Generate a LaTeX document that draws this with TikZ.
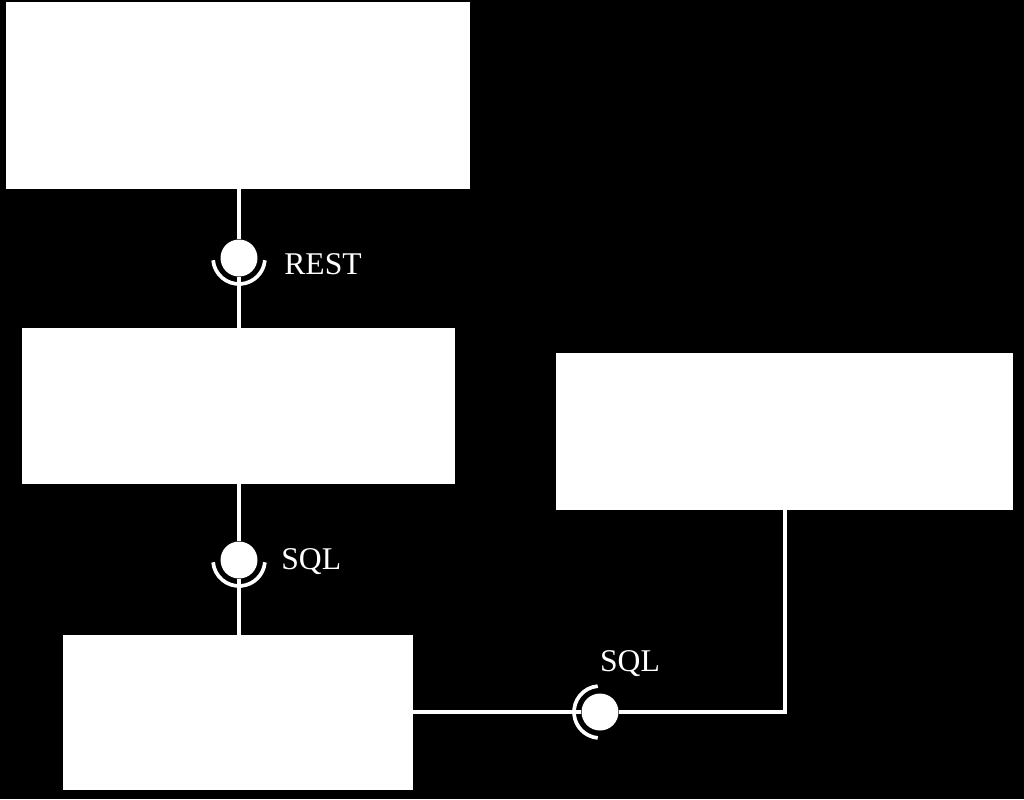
\documentclass[tikz,border=0pt]{standalone}
\usepackage{fontspec}
\setmainfont{Liberation Serif}
\usepackage{tikz}
\usetikzlibrary{positioning, backgrounds}
\tikzset{
  box/.style={draw=none, fill=white, inner sep=0pt, minimum width=#1},
  box/.default=9cm,
  wire/.style={draw=white, line width=2.1pt},
  ball/.style={circle, fill=white, draw=none, inner sep=0pt, minimum size=0.74cm},
  sock/.style={draw=white, line width=2.1pt},
  lbl/.style={text=white, font=\fontsize{18}{21}\selectfont, inner sep=0pt},
}

\begin{document}
\begin{tikzpicture}[x=0.02cm, y=-0.02cm]
    \useasboundingbox[fill=black] (0,0) rectangle (1024,799);
    % components
    \node[box=9.28cm, minimum height=3.74cm] (client) at (238, 95.5)  {};
    \node[box=8.66cm, minimum height=3.12cm] (server) at (238.5, 406) {};
    \node[box=9.14cm, minimum height=3.14cm] (other)  at (784.5, 431.5) {};
    \node[box=7.0cm,  minimum height=3.1cm]  (dbase)  at (238, 712.5) {};
    % interfaces
    \node[ball] (irest) at (239, 258) {};
    \node[ball] (isql)  at (239, 560) {};
    \node[ball] (isqlb) at (600, 712) {};
    \node[lbl, anchor=west] (lrest) at (284, 264) {REST};
    \node[lbl, anchor=west] (lsql)  at (281, 562) {SQL};
    \node[lbl] (lsqlb) at (630, 664) {SQL};
    \coordinate (bend) at (785, 712);

    \draw[wire] (client.south -| irest) -- (irest);
    \draw[wire] (irest) -- (server.north -| irest);
    \draw[wire] (server.south -| isql) -- (isql);
    \draw[wire] (isql) -- (dbase.north -| isql);
    \draw[wire] (dbase.east |- isqlb) -- (isqlb);
    \draw[wire] (isqlb) -- (bend) -- (other.south -| bend);

    % sockets
    \draw[sock] (irest.center) ++(185:0.52cm) arc[start angle=185, end angle=355, radius=0.52cm];
    \draw[sock] (isql.center) ++(185:0.52cm) arc[start angle=185, end angle=355, radius=0.52cm];
    \draw[sock] (isqlb.center) ++(95:0.52cm) arc[start angle=95, end angle=265, radius=0.52cm];
  \end{tikzpicture}
\end{document}
